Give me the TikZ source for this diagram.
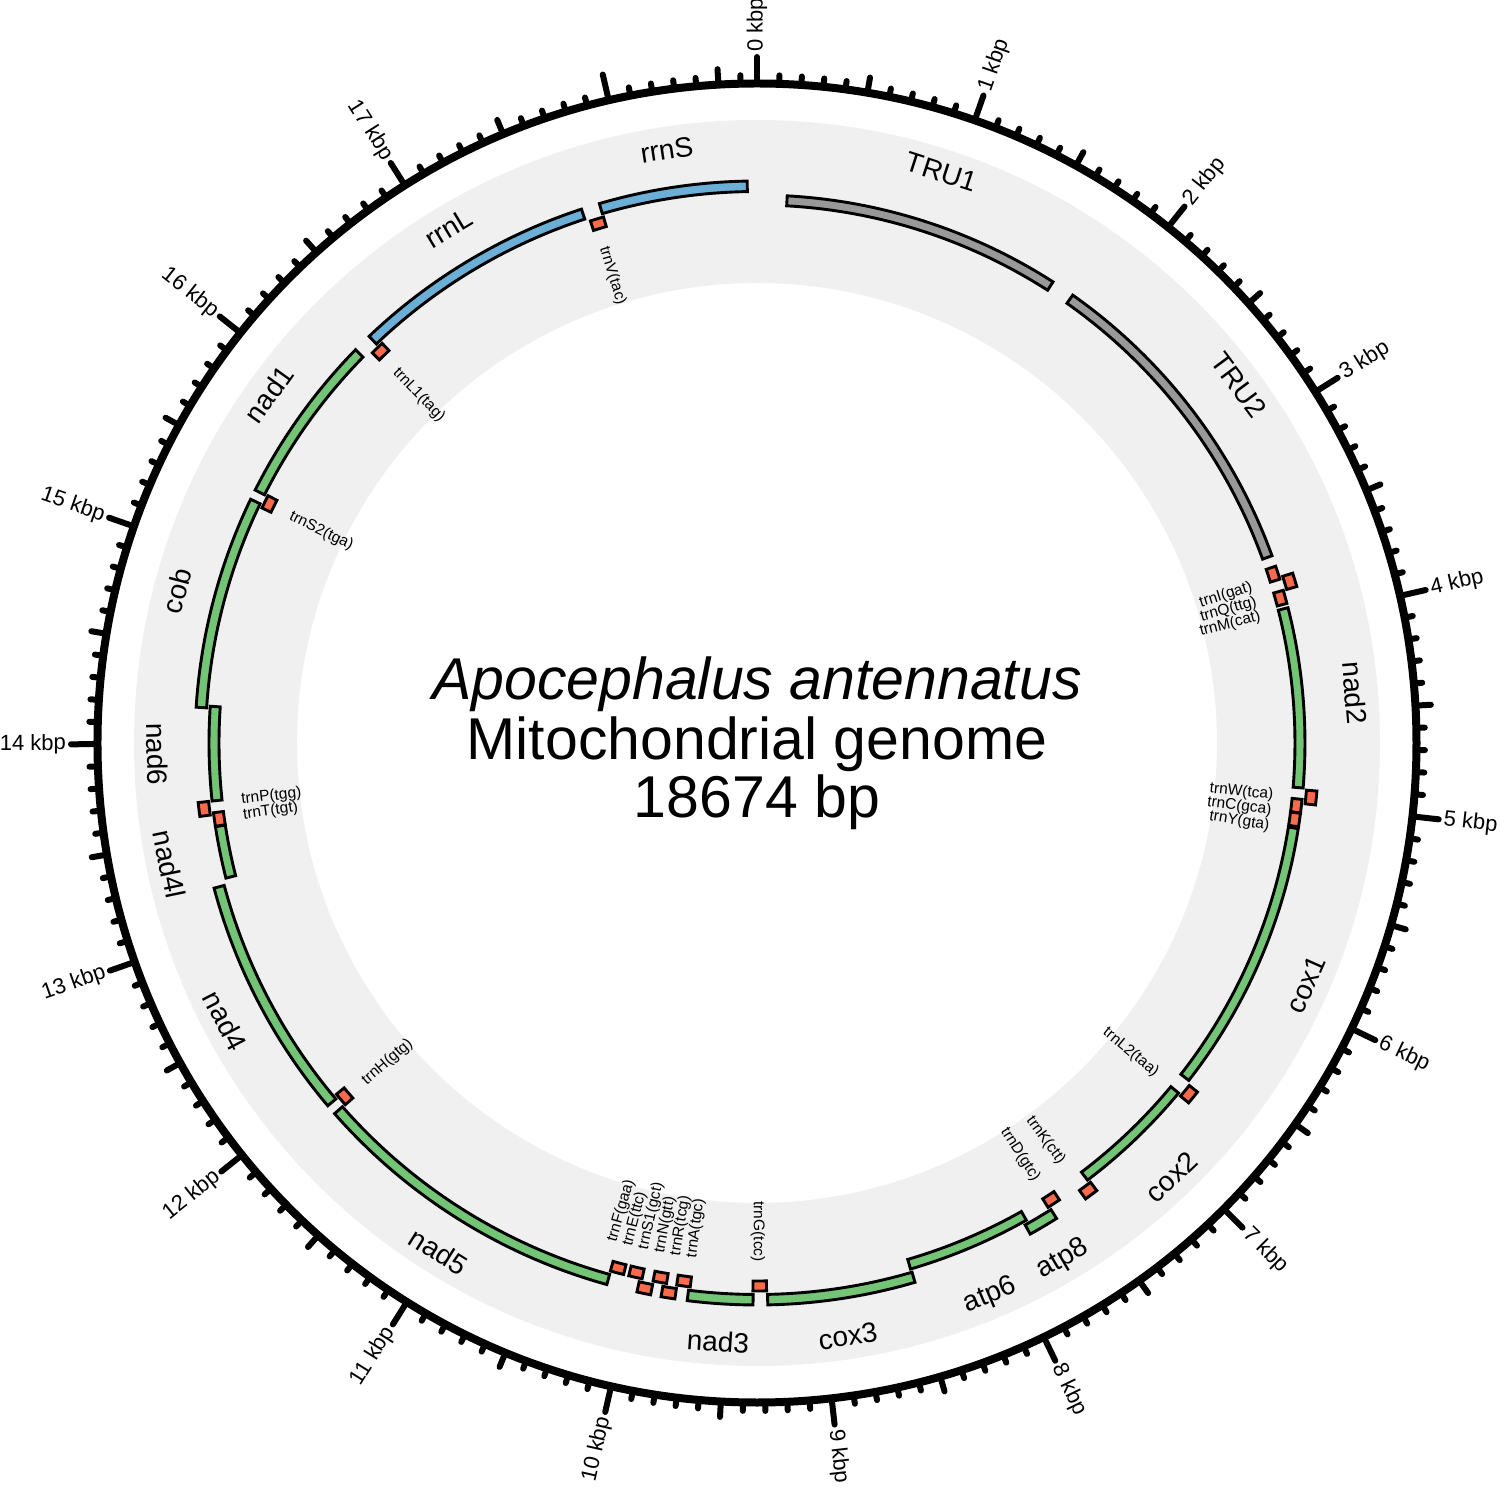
\documentclass[tikz,border=0pt]{standalone}
\usepackage{fontspec}
\setmainfont{Liberation Sans}
\usepackage{tikz}
\tikzset{>=latex}
\definecolor{bandgray}{RGB}{240,240,240}
\definecolor{rrnablue}{RGB}{107,174,214}
\definecolor{trugray}{RGB}{153,153,153}
\definecolor{cdsgreen}{RGB}{116,196,118}
\definecolor{trnared}{RGB}{251,106,74}
\tikzset{
  featbox/.style={draw=black, line width=2.9pt},
  genetext/.style={font=\fontsize{28}{33}\selectfont, inner sep=0pt},
  trnatext/.style={font=\fontsize{15.5}{18}\selectfont, inner sep=0pt},
  kbptext/.style={font=\fontsize{22}{26}\selectfont, inner sep=1pt},
  titletext/.style={font=\fontsize{59}{60}\selectfont, inner sep=0pt, anchor=base},
  tickline/.style={line width=6pt, line cap=round},
}
\newcommand{\glen}{18.674}
\def\trackin{\def\trkA{538}\def\trkB{548}}
\def\trackout{\def\trkA{551.5}\def\trkB{562}}
% #1 start, #2 end (kbp), #3 in/out, #4 colour
\newcommand{\feat}[4]{%
  \csname track#3\endcsname
  \pgfmathsetmacro{\fa}{90-(#1)*360/\glen}
  \pgfmathsetmacro{\fb}{90-(#2)*360/\glen}
  \draw[featbox, fill=#4] (\fa:\trkA pt) arc[start angle=\fa, end angle=\fb, radius=\trkA pt]
    -- (\fb:\trkB pt) arc[start angle=\fb, end angle=\fa, radius=\trkB pt] -- cycle;
}
% #1 name, #2 middle (kbp), #3 text
\newcommand{\featlabel}[3]{%
  \pgfmathsetmacro{\fm}{90-(#2)*360/\glen}
  \pgfmathsetmacro{\fr}{sin(\fm)>=0 ? \fm-90 : \fm+90}
  \node[genetext, rotate=\fr] (#1) at (\fm:600pt) {#3};
}
% #1 name, #2 centre (kbp), #3 in/out, #4 label (kbp), #5 text
\newcommand{\trna}[5]{%
  \feat{#2-0.037}{#2+0.037}{#3}{trnared}
  \pgfmathsetmacro{\tl}{90-(#4)*360/\glen}
  \pgfmathsetmacro{\tc}{cos(\tl)}
  \pgfmathsetmacro{\tlr}{\tl+180}
  \ifdim\tc pt>-0.01pt
    \node[trnatext, anchor=east, rotate=\tl] (#1) at (\tl:519pt) {#5};
  \else
    \node[trnatext, anchor=west, rotate=\tlr] (#1) at (\tl:519pt) {#5};
  \fi
}

\begin{document}
\begin{tikzpicture}[x=1pt, y=1pt]
\useasboundingbox (-757,-745) rectangle (743,743);
\fill[white] (-757,-745) rectangle (743,743);
\fill[bandgray, even odd rule] (0,0) circle[radius=623pt] (0,0) circle[radius=460pt];

% scale
\foreach \t in {0,...,186} {
  \pgfmathsetmacro{\ta}{90-\t*36/\glen}
  \pgfmathsetmacro{\tr}{mod(\t,10)==0 ? 686 : (mod(\t,5)==0 ? 675 : 668)}
  \draw[tickline] (\ta:659.5pt) -- (\ta:\tr pt);
}
\draw[line width=8pt] (0,0) circle[radius=659.5pt];
\foreach \k in {0,...,17} {
  \pgfmathsetmacro{\ka}{90-\k*360/\glen}
  \pgfmathsetmacro{\kc}{cos(\ka)}
  \pgfmathsetmacro{\kr}{\ka+180}
  \ifdim\kc pt>-0.01pt
    \node[kbptext, anchor=west, rotate=\ka] (kbp\k) at (\ka:690pt) {\k\ kbp};
  \else
    \node[kbptext, anchor=east, rotate=\kr] (kbp\k) at (\ka:690pt) {\k\ kbp};
  \fi
}

% genes
\feat{0.164}{1.696}{in}{trugray}
\feat{1.825}{3.632}{in}{trugray}
\feat{3.927}{4.913}{in}{cdsgreen}
\feat{5.135}{6.640}{in}{cdsgreen}
\feat{6.728}{7.413}{in}{cdsgreen}
\feat{7.666}{7.828}{out}{cdsgreen}
\feat{7.810}{8.493}{in}{cdsgreen}
\feat{8.490}{9.280}{out}{cdsgreen}
\feat{9.358}{9.707}{out}{cdsgreen}
\feat{10.141}{11.865}{out}{cdsgreen}
\feat{11.920}{13.229}{out}{cdsgreen}
\feat{13.265}{13.550}{in}{cdsgreen}
\feat{13.690}{14.205}{in}{cdsgreen}
\feat{14.195}{15.339}{out}{cdsgreen}
\feat{15.393}{16.309}{out}{cdsgreen}
\feat{16.410}{17.730}{out}{rrnablue}
\feat{17.829}{18.622}{out}{rrnablue}

% tRNAs
\trna{trnI}{3.729}{in}{3.761}{trnI(gat)}
\trna{trnQ}{3.793}{out}{3.849}{trnQ(ttg)}
\trna{trnM}{3.866}{in}{3.937}{trnM(cat)}
\trna{trnW}{4.960}{out}{4.969}{trnW(tca)}
\trna{trnC}{5.012}{in}{5.058}{trnC(gca)}
\trna{trnY}{5.088}{in}{5.146}{trnY(gta)}
\trna{trnL2}{6.697}{out}{6.723}{trnL2(taa)}
\trna{trnK}{7.444}{out}{7.470}{trnK(ctt)}
\trna{trnD}{7.636}{in}{7.646}{trnD(gtc)}
\trna{trnG}{9.322}{in}{9.332}{trnG(tcc)}
\trna{trnA}{9.737}{in}{9.710}{trnA(tgc)}
\trna{trnR}{9.810}{out}{9.804}{trnR(tcg)}
\trna{trnN}{9.867}{in}{9.897}{trnN(gtt)}
\trna{trnS1}{9.940}{out}{9.991}{trnS1(gct)}
\trna{trnE}{10.002}{in}{10.084}{trnE(ttc)}
\trna{trnF}{10.105}{in}{10.177}{trnF(gaa)}
\trna{trnH}{11.900}{in}{11.889}{trnH(gtg)}
\trna{trnT}{13.589}{in}{13.591}{trnT(tgt)}
\trna{trnP}{13.653}{out}{13.679}{trnP(tgg)}
\trna{trnS2}{15.360}{in}{15.350}{trnS2(tga)}
\trna{trnL1}{16.398}{in}{16.382}{trnL1(tag)}
\trna{trnV}{17.793}{in}{17.782}{trnV(tac)}

% gene names
\featlabel{tru1}{0.930}{TRU1}
\featlabel{tru2}{2.770}{TRU2}
\featlabel{nad2}{4.420}{nad2}
\featlabel{cox1}{5.900}{cox1}
\featlabel{cox2}{7.070}{cox2}
\featlabel{atp8}{7.747}{atp8}
\featlabel{atp6}{8.150}{atp6}
\featlabel{cox3}{8.885}{cox3}
\featlabel{nad3}{9.530}{nad3}
\featlabel{nad5}{11.000}{nad5}
\featlabel{nad4}{12.575}{nad4}
\featlabel{nad4l}{13.400}{nad4l}
\featlabel{nad6}{13.950}{nad6}
\featlabel{cob}{14.767}{cob}
\featlabel{nad1}{15.850}{nad1}
\featlabel{rrnL}{17.070}{rrnL}
\featlabel{rrnS}{18.225}{rrnS}

\node[titletext] (species) at (0,43) {\textit{Apocephalus antennatus}};
\node[titletext] (genome) at (0,-17) {Mitochondrial genome};
\node[titletext] (length) at (0,-75) {18674 bp};
\end{tikzpicture}
\end{document}
